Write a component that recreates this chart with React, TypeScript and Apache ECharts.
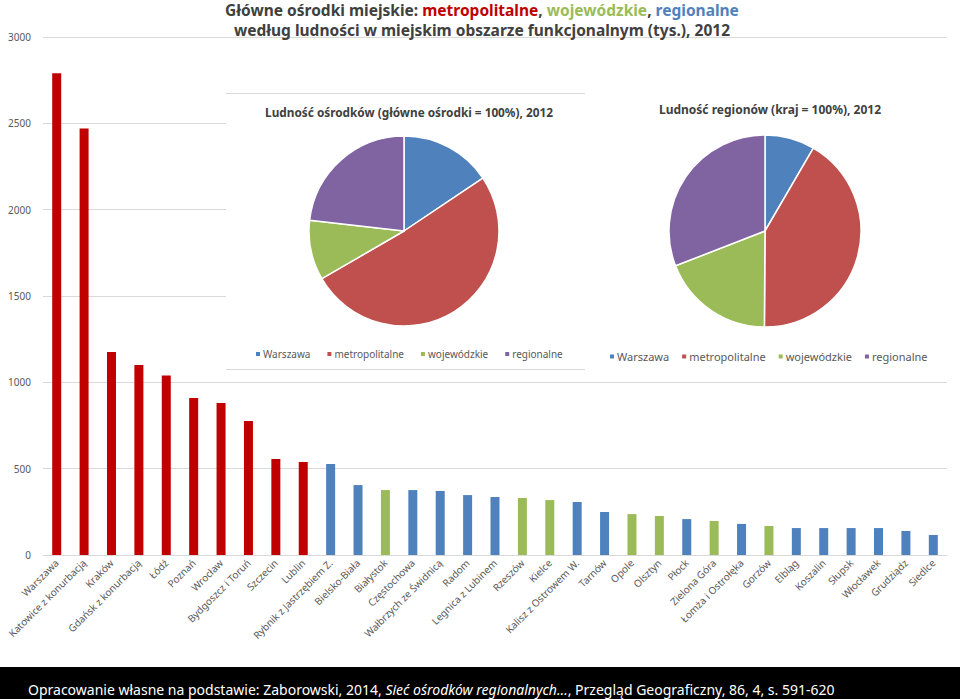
import React, { useEffect, useRef } from "react";
import * as echarts from "echarts";

const categories = [
  "Warszawa", "Katowice z konurbacją", "Kraków", "Gdańsk z konurbacją", "Łódź", "Poznań",
  "Wrocław", "Bydgoszcz i Toruń", "Szczecin", "Lublin", "Rybnik z Jastrzębiem Z.",
  "Bielsko-Biała", "Białystok", "Częstochowa", "Wałbrzych ze Świdnicą", "Radom",
  "Legnica z Lubinem", "Rzeszów", "Kielce", "Kalisz z Ostrowem W.", "Tarnów", "Opole",
  "Olsztyn", "Płock", "Zielona Góra", "Łomża i Ostrołęka", "Gorzów", "Elbląg", "Koszalin",
  "Słupsk", "Włocławek", "Grudziądz", "Siedlce",
];

const populations = [
  2790, 2470, 1175, 1100, 1040, 909, 880, 776, 556, 539, 527, 405, 376, 376, 371, 347,
  336, 330, 318, 307, 249, 237, 226, 208, 197, 180, 168, 156, 156, 156, 156, 139, 116,
];

// m = metropolitalne, w = wojewódzkie, r = regionalne
const centerTypes = [
  "m", "m", "m", "m", "m", "m", "m", "m", "m", "m", "r", "r", "w", "r", "r", "r",
  "r", "w", "w", "r", "r", "w", "w", "r", "w", "r", "w", "r", "r", "r", "r", "r", "r",
];

const typeColors: Record<string, string> = { m: "#C00000", w: "#9BBB59", r: "#4F81BD" };

const pieNames = ["Warszawa", "metropolitalne", "wojewódzkie", "regionalne"];
const pieColors = ["#4F81BD", "#C0504D", "#9BBB59", "#8064A2"];
const sharesOfCenters = [15.6, 51.1, 10.2, 23.2];
const sharesOfRegions = [8.4, 41.7, 19.0, 30.9];

const yTicks = { min: 0, max: 3000, interval: 500 };

const FONT = "Noto Sans";

export default function App() {
  const ref = useRef<HTMLDivElement>(null);

  useEffect(() => {
    document.body.style.margin = "0";
    if (!ref.current) return;
    const chart = echarts.init(ref.current, undefined, { renderer: "svg" });

    const barData = populations.map((v, i) => ({
      value: v,
      itemStyle: { color: typeColors[centerTypes[i]] },
    }));

    const pieData = (vals: number[]) =>
      vals.map((v, i) => ({ name: pieNames[i], value: v, itemStyle: { color: pieColors[i] } }));

    const legendCommon = {
      orient: "horizontal",
      icon: "rect",
      itemWidth: 6,
      itemHeight: 6,
      width: 400,
      data: pieNames,
      selectedMode: false,
    };

    const titleRich = (color: string) => ({
      color,
      fontSize: 15.5,
      fontWeight: "bold",
      fontFamily: FONT,
      lineHeight: 20,
    });

    chart.setOption({
      animation: false,
      backgroundColor: "#ffffff",
      textStyle: { fontFamily: FONT },
      title: [
        {
          left: 482,
          top: 0,
          padding: 0,
          textAlign: "center",
          text:
            "{d|Główne ośrodki miejskie: }{r|metropolitalne}{d|, }{g|wojewódzkie}{d|, }{b|regionalne}\n{d|według ludności w miejskim obszarze funkcjonalnym (tys.), 2012}",
          textStyle: {
            rich: {
              d: titleRich("#404040"),
              r: titleRich("#C00000"),
              g: titleRich("#9BBB59"),
              b: titleRich("#4F81BD"),
            },
          },
        },
        {
          left: 404,
          top: 101,
          textAlign: "center",
          text: "Ludność ośrodków (główne ośrodki = 100%), 2012",
          textStyle: { color: "#404040", fontSize: 11.8, fontWeight: "bold", fontFamily: FONT },
        },
        {
          left: 765,
          top: 98,
          textAlign: "center",
          text: "Ludność regionów (kraj = 100%), 2012",
          textStyle: { color: "#404040", fontSize: 12, fontWeight: "bold", fontFamily: FONT },
        },
      ],
      legend: [
        {
          ...legendCommon,
          left: 249,
          top: 344,
          itemGap: 15,
          textStyle: { color: "#595959", fontSize: 10, fontFamily: FONT, padding: [0, 0, 0, -3] },
        },
        {
          ...legendCommon,
          left: 603,
          top: 346,
          itemGap: 11,
          textStyle: { color: "#595959", fontSize: 11, fontFamily: FONT, padding: [0, 0, 0, -3] },
        },
      ],
      grid: { left: 43, right: 13, top: 37, bottom: 144, containLabel: false },
      xAxis: {
        type: "category",
        data: categories,
        axisTick: { show: false },
        axisLine: { lineStyle: { color: "#d9d9d9" } },
        axisLabel: {
          interval: 0,
          rotate: 45,
          color: "#595959",
          fontSize: 10,
          fontFamily: FONT,
          margin: 6,
        },
      },
      yAxis: {
        type: "value",
        min: yTicks.min,
        max: yTicks.max,
        interval: yTicks.interval,
        axisLine: { show: false },
        axisTick: { show: false },
        splitLine: { lineStyle: { color: "#d9d9d9" } },
        axisLabel: {
          color: "#595959",
          fontSize: 10,
          fontFamily: FONT,
          margin: 12,
          formatter: (v: number) => String(v),
        },
      },
      graphic: [
        {
          type: "rect",
          z: 1,
          shape: { x: 226, y: 90, width: 734, height: 282 },
          style: { fill: "#ffffff" },
        },
        {
          type: "line",
          z: 1,
          shape: { x1: 226, y1: 93.5, x2: 585, y2: 93.5 },
          style: { stroke: "#d9d9d9", lineWidth: 1 },
        },
        {
          type: "line",
          z: 1,
          shape: { x1: 226, y1: 369.5, x2: 585, y2: 369.5 },
          style: { stroke: "#d9d9d9", lineWidth: 1 },
        },
        {
          type: "rect",
          z: 1,
          shape: { x: 0, y: 667, width: 960, height: 32 },
          style: { fill: "#000000" },
        },
        {
          type: "text",
          z: 2,
          x: 28,
          y: 689,
          style: {
            text:
              "{n|Opracowanie własne na podstawie: Zaborowski, 2014, }{i|Sieć ośrodków regionalnych…}{n|, Przegląd Geograficzny, 86, 4, s. 591-620}",
            verticalAlign: "middle",
            rich: {
              n: { fill: "#ffffff", fontSize: 14, fontFamily: FONT },
              i: { fill: "#ffffff", fontSize: 14, fontFamily: FONT, fontStyle: "italic" },
            },
          },
        },
      ],
      series: [
        {
          type: "bar",
          name: "ludność",
          data: barData,
          barWidth: 9,
        },
        {
          type: "pie",
          name: "Ludność ośrodków",
          center: [404, 231],
          radius: 95,
          startAngle: 90,
          label: { show: false },
          labelLine: { show: false },
          itemStyle: { borderColor: "#ffffff", borderWidth: 1.5 },
          data: pieData(sharesOfCenters),
        },
        {
          type: "pie",
          name: "Ludność regionów",
          center: [765, 231],
          radius: 96,
          startAngle: 90,
          label: { show: false },
          labelLine: { show: false },
          itemStyle: { borderColor: "#ffffff", borderWidth: 1.5 },
          data: pieData(sharesOfRegions),
        },
      ],
    });

    return () => chart.dispose();
  }, []);

  return <div ref={ref} style={{ width: 960, height: 699 }} />;
}
